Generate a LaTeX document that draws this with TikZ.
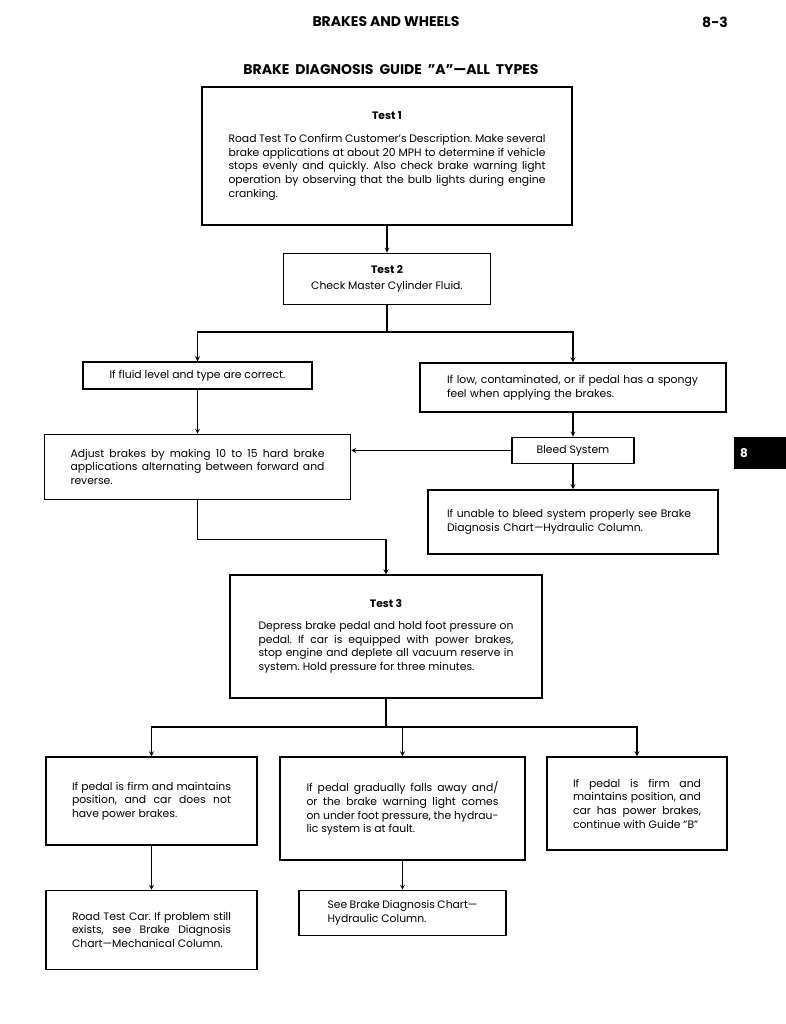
\documentclass[tikz,border=0pt]{standalone}
\usepackage{fontspec}
\setmainfont{Poppins}
\frenchspacing
\usetikzlibrary{arrows, positioning}

\begin{document}
\begin{tikzpicture}[
    x=1pt, y=-1pt,
    font=\fontsize{10.8}{13.7}\selectfont,
    box/.style={rectangle, draw, line width=1.4pt, inner sep=0pt, align=justify},
    arrow/.style={->, line width=1.2pt, >=stealth},
    head/.style={font=\fontsize{14}{16}\selectfont\bfseries}
]
\useasboundingbox (0,0) rectangle (786,1024);

% Page heading
\node[head] (page) at (386,22) {BRAKES AND WHEELS};
\node[head] (pageno) at (715,22) {8-3};
\node[head] (title) at (391,70) {BRAKE\ \ DIAGNOSIS\ \ GUIDE\ \ ''A''---ALL\ \ TYPES};
\node[fill=black, text=white, minimum height=32pt, text width=40pt, inner xsep=6pt, anchor=west, font=\fontsize{12}{14}\selectfont\bfseries] (tab) at (734,453) {8};

% Test 1 and Test 2
\node[box, minimum width=370pt, minimum height=138pt, text width=317pt] (test1) at (387,156) {\centerline{\bfseries Test 1}\par\vspace{9pt}Road Test To Confirm Customer's Description. Make several\linebreak brake applications at about 20 MPH to determine if vehicle\linebreak stops evenly and quickly. Also check brake warning light\linebreak operation by observing that the bulb lights during engine\linebreak cranking.};
\node[box, align=center, minimum width=207pt, minimum height=51pt, below=27pt of test1] (test2) {{\bfseries Test 2}\\[2pt]Check Master Cylinder Fluid.};

% Fluid branches
\node[box, align=center, minimum width=229pt, minimum height=27pt] (fluid) at (197.5,375.5) {If fluid level and type are correct.};
\node[box, align=left, minimum width=306pt, minimum height=49pt, text width=252pt] (low) at (573,387.5) {If low, contaminated, or if pedal has a spongy\\feel when applying the brakes.};
\node[box, minimum width=306pt, minimum height=65pt, text width=254pt, below=44pt of fluid] (adjust) {Adjust brakes by making 10 to 15 hard brake\linebreak applications alternating between forward and\linebreak reverse.};
\node[box, align=center, minimum width=122pt, minimum height=26pt, below=24pt of low] (bleed) {Bleed System};
\node[box, align=left, minimum width=290pt, minimum height=64pt, text width=252pt, below=25pt of bleed] (unable) {If unable to bleed system properly see Brake\\Diagnosis Chart---Hydraulic Column.};

% Test 3
\node[box, minimum width=312pt, minimum height=123pt, text width=255pt] (test3) at (386,636.5) {\centerline{\bfseries Test 3}\par\vspace{8pt}Depress brake pedal and hold foot pressure on\linebreak pedal. If car is equipped with power brakes,\linebreak stop engine and deplete all vacuum reserve in\linebreak system. Hold pressure for three minutes.};

% Pedal results
\node[box, minimum width=211pt, minimum height=88pt, text width=159pt] (firm) at (151.5,801) {If pedal is firm and maintains\linebreak position, and car does not\linebreak have power brakes.};
\node[box, minimum width=245pt, minimum height=103pt, text width=192pt] (falls) at (402.5,808.5) {If pedal gradually falls away and/\linebreak or the brake warning light comes\linebreak on under foot pressure, the hydrau-\linebreak lic system is at fault.};
\node[box, minimum width=180pt, minimum height=93pt, text width=128pt] (guideb) at (637,803.5) {If pedal is firm and\linebreak maintains position, and\linebreak car has power brakes,\linebreak continue with Guide ''B''};
\node[box, minimum width=211pt, minimum height=79pt, text width=159pt, below=44pt of firm] (roadtest) {Road Test Car. If problem still\linebreak exists, see Brake Diagnosis\linebreak Chart---Mechanical Column.};
\node[box, minimum width=207pt, minimum height=45pt, text width=150pt, below=29pt of falls] (hydraulic) {See Brake Diagnosis Chart---\linebreak Hydraulic Column.};

% Split points
\coordinate (split1) at (387,332);
\coordinate (split3) at (386,727);

% Arrows
\draw[arrow] (test1) -- (test2);
\draw[arrow] (test2.south) -- (split1) -| (fluid.north);
\draw[arrow] (split1) -| (low.north);
\draw[arrow] (fluid) -- (adjust);
\draw[arrow] (low) -- (bleed);
\draw[arrow] (bleed) -- (bleed -| adjust.east);
\draw[arrow] (bleed) -- (unable);
\draw[arrow] (adjust.south) -- ++(0,39) -| (test3.north);
\draw[arrow] (test3.south) -- (split3) -| (firm.north);
\draw[arrow] (split3) -| (falls.north);
\draw[arrow] (split3) -| (guideb.north);
\draw[arrow] (firm) -- (roadtest);
\draw[arrow] (falls) -- (hydraulic);

\end{tikzpicture}
\end{document}
